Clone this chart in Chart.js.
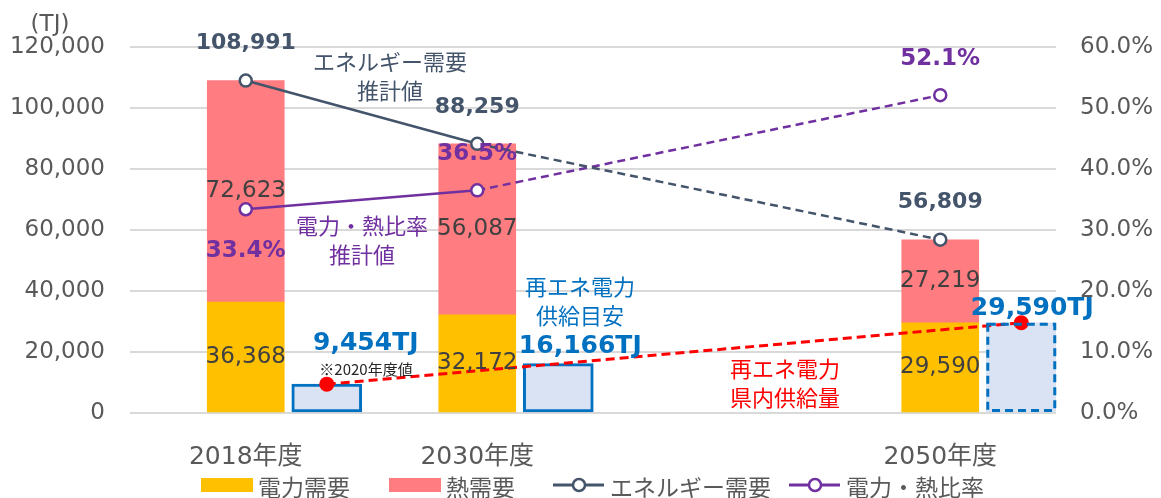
<!DOCTYPE html>
<html>
<head>
<meta charset="utf-8">
<script src="https://cdn.jsdelivr.net/npm/chart.js@4.4.1/dist/chart.umd.min.js"></script>
<style>
  html, body { margin: 0; padding: 0; background: #ffffff; }
  #wrap { width: 1161px; height: 498px; position: relative; }
</style>
</head>
<body>
<div id="wrap"><canvas id="chart" width="1161" height="498"></canvas></div>
<script>
// ---- data ----
const categories     = ['2018年度', '2030年度', '', '2050年度'];
const powerDemand    = [36368, 32172, null, 29590];   // 電力需要 (TJ)
const heatDemand     = [72623, 56087, null, 27219];   // 熱需要 (TJ)
const energyDemand   = [108991, 88259, null, 56809];  // エネルギー需要 (TJ)
const powerHeatRatio = [33.4, 36.5, null, 52.1];      // 電力・熱比率 (%)
const renewTarget    = [9454, 16166, null, 29590];    // 再エネ電力供給目安 (TJ)
const renewSupply    = [9454, null, null, 29590];     // 再エネ電力県内供給量 (TJ)
const leftAxis  = { min: 0, max: 120000, step: 20000 };
const rightAxis = { min: 0, max: 60, step: 10 };

// ---- styling ----
const FONT_NUM = "'DejaVu Sans', 'Noto Sans CJK JP', sans-serif";
const FONT_JP  = "'Noto Sans CJK JP', sans-serif";
const C_POWER = '#FFC000', C_HEAT = '#FF7C80', C_ENERGY = '#44546A',
      C_RATIO = '#7030A0', C_BLUE = '#0070C0', C_BLUE_FILL = '#DAE3F3',
      C_RED = '#FF0000', C_TEXT = '#595959';
const RENEW_SHIFT = 0.35;      // renewable bars sit to the right of each demand bar
const DASHED_CATEGORY = 3;     // the 2050 target is outlined with a dashed border

const fmt = v => v.toLocaleString('en-US');
const shifted = arr => arr.map((v, i) => v == null ? null : { x: i + RENEW_SHIFT, y: v }).filter(Boolean);

const datasets = [
  { key: 'power', type: 'bar', label: '電力需要', data: powerDemand, stack: 'demand', grouped: false,
    backgroundColor: C_POWER, barThickness: 77, order: 3, xAxisID: 'x', yAxisID: 'y', inLegend: true },
  { key: 'heat', type: 'bar', label: '熱需要', data: heatDemand, stack: 'demand', grouped: false,
    backgroundColor: C_HEAT, barThickness: 77, order: 3, xAxisID: 'x', yAxisID: 'y', inLegend: true },
  { key: 'energy', type: 'line', label: 'エネルギー需要', data: energyDemand, spanGaps: true,
    borderColor: C_ENERGY, borderWidth: 2.5, pointRadius: 6, pointBorderWidth: 2.5,
    pointBackgroundColor: '#ffffff', pointBorderColor: C_ENERGY, order: 1,
    segment: { borderDash: c => c.p0DataIndex >= 1 ? [8, 5] : undefined },
    xAxisID: 'x', yAxisID: 'y', inLegend: true },
  { key: 'ratio', type: 'line', label: '電力・熱比率', data: powerHeatRatio, spanGaps: true,
    borderColor: C_RATIO, borderWidth: 2.5, pointRadius: 6, pointBorderWidth: 2.5,
    pointBackgroundColor: '#ffffff', pointBorderColor: C_RATIO, order: 1,
    segment: { borderDash: c => c.p0DataIndex >= 1 ? [8, 5] : undefined },
    xAxisID: 'x', yAxisID: 'y1', inLegend: true },
  { key: 'target', type: 'bar', label: '再エネ電力供給目安', data: shifted(renewTarget), grouped: false,
    backgroundColor: C_BLUE_FILL, borderColor: C_BLUE, borderSkipped: false,
    borderWidth: c => (c.raw && Math.floor(c.raw.x) === DASHED_CATEGORY) ? 0 : 3,
    barThickness: 70, order: 4, xAxisID: 'x2', yAxisID: 'y' },
  { key: 'supply', type: 'line', label: '再エネ電力県内供給量', data: shifted(renewSupply),
    borderColor: C_RED, borderWidth: 3, borderDash: [9, 5], pointRadius: 7.5,
    pointBackgroundColor: C_RED, pointBorderWidth: 0, order: 0, xAxisID: 'x2', yAxisID: 'y' }
];

// text notes placed on the plot
const notes = [
  { lines: ['エネルギー需要', '推計値'], color: C_ENERGY, x: 390, y: 62 },
  { lines: ['電力・熱比率', '推計値'],   color: C_RATIO,  x: 362, y: 226 },
  { lines: ['再エネ電力', '供給目安'],   color: C_BLUE,   x: 580, y: 287 },
  { lines: ['再エネ電力', '県内供給量'], color: C_RED,    x: 785, y: 369 }
];
const ratioLabelDy = [42, -36, null, -36];
const targetLabelOffset = [{ dx: 39, dy: -41 }, { dx: 22, dy: -17 }, null, { dx: 11, dy: -14 }];
const legendStarts = [201, 389, 553, 789];

function dsByKey(chart, key) {
  const i = chart.data.datasets.findIndex(d => d.key === key);
  return { ds: chart.data.datasets[i], meta: chart.getDatasetMeta(i) };
}

const annotate = {
  id: 'annotate',
  afterDatasetsDraw(chart) {
    const ctx = chart.ctx;
    ctx.save();

    // dashed outline of the 2050 target bar
    const tgt = dsByKey(chart, 'target');
    tgt.meta.data.forEach((el, i) => {
      const raw = tgt.ds.data[i];
      if (!raw || Math.floor(raw.x) !== DASHED_CATEGORY) return;
      const left = el.x - el.width / 2;
      ctx.strokeStyle = C_BLUE;
      ctx.lineWidth = 3;
      ctx.setLineDash([8, 5]);
      ctx.strokeRect(left + 1.5, el.y + 1.5, el.width - 3, el.base - el.y - 3);
      ctx.setLineDash([]);
    });

    ctx.textAlign = 'center';
    ctx.textBaseline = 'middle';

    // stacked segment values
    ['power', 'heat'].forEach(k => {
      const { ds, meta } = dsByKey(chart, k);
      meta.data.forEach((el, i) => {
        const v = ds.data[i];
        if (v == null) return;
        const p = el.getCenterPoint();
        ctx.font = `23px ${FONT_NUM}`;
        ctx.fillStyle = '#404040';
        ctx.fillText(fmt(v), p.x, p.y);
      });
    });

    // energy demand totals
    {
      const { ds, meta } = dsByKey(chart, 'energy');
      ctx.font = `bold 22px ${FONT_NUM}`;
      ctx.fillStyle = C_ENERGY;
      meta.data.forEach((el, i) => {
        const v = ds.data[i];
        if (v == null) return;
        ctx.fillText(fmt(v), el.x, el.y - 37);
      });
    }

    // power/heat ratio
    {
      const { ds, meta } = dsByKey(chart, 'ratio');
      ctx.font = `bold 23px ${FONT_NUM}`;
      ctx.fillStyle = C_RATIO;
      meta.data.forEach((el, i) => {
        const v = ds.data[i];
        if (v == null) return;
        ctx.fillText(v.toFixed(1) + '%', el.x, el.y + ratioLabelDy[i]);
      });
    }

    // renewable targets
    {
      const { ds, meta } = dsByKey(chart, 'target');
      ctx.font = `bold 25px ${FONT_NUM}`;
      ctx.fillStyle = C_BLUE;
      meta.data.forEach((el, i) => {
        const raw = ds.data[i];
        const off = targetLabelOffset[Math.floor(raw.x)];
        ctx.fillText(fmt(raw.y) + 'TJ', el.x + off.dx, el.y + off.dy);
      });
    }

    // notes
    ctx.font = `22px ${FONT_JP}`;
    notes.forEach(n => {
      ctx.fillStyle = n.color;
      n.lines.forEach((t, j) => ctx.fillText(t, n.x, n.y + j * 28.5));
    });
    ctx.font = `15px ${FONT_JP}`;
    ctx.fillStyle = '#262626';
    ctx.fillText('※2020年度値', 366, 369);

    // unit
    ctx.font = `23px ${FONT_NUM}`;
    ctx.fillStyle = C_TEXT;
    ctx.fillText('(TJ)', 50, 25);
    ctx.restore();
  },
  afterDraw(chart) {
    // legend
    const ctx = chart.ctx;
    ctx.save();
    const cy = 485;
    const items = chart.data.datasets.filter(d => d.inLegend);
    items.forEach((d, i) => {
      const x0 = legendStarts[i];
      if (d.type === 'bar') {
        ctx.fillStyle = d.backgroundColor;
        ctx.fillRect(x0, cy - 7, 52, 14);
      } else {
        ctx.strokeStyle = d.borderColor;
        ctx.lineWidth = 3;
        ctx.beginPath();
        ctx.moveTo(x0, cy); ctx.lineTo(x0 + 51, cy);
        ctx.stroke();
        ctx.beginPath();
        ctx.arc(x0 + 26, cy, 6, 0, Math.PI * 2);
        ctx.fillStyle = '#ffffff';
        ctx.fill();
        ctx.lineWidth = 2.5;
        ctx.stroke();
      }
      ctx.font = `23px ${FONT_JP}`;
      ctx.fillStyle = C_TEXT;
      ctx.textAlign = 'left';
      ctx.textBaseline = 'middle';
      ctx.fillText(d.label, x0 + 57, cy + 2);
    });
    ctx.restore();
  }
};

new Chart(document.getElementById('chart'), {
  data: { labels: categories, datasets },
  options: {
    responsive: false,
    animation: false,
    devicePixelRatio: 1,
    layout: { padding: { top: 47, left: 0, right: 0, bottom: 0 } },
    plugins: { legend: { display: false }, tooltip: { enabled: false } },
    scales: {
      x: {
        type: 'category', labels: categories, offset: true,
        grid: { display: false }, border: { display: false },
        ticks: { color: C_TEXT, font: { family: FONT_NUM, size: 25 }, padding: 21,
                 maxRotation: 0, autoSkip: false },
        afterFit: s => { s.height = 85; }
      },
      x2: { type: 'linear', display: false, min: -0.5, max: 3.5, offset: false },
      y: {
        position: 'left', min: leftAxis.min, max: leftAxis.max,
        grid: { color: '#D9D9D9', lineWidth: 2, drawTicks: false },
        border: { display: false },
        ticks: { stepSize: leftAxis.step, callback: v => fmt(v), color: C_TEXT,
                 font: { family: FONT_NUM, size: 23 }, padding: 25 },
        afterFit: s => { s.width = 130; }
      },
      y1: {
        position: 'right', min: rightAxis.min, max: rightAxis.max,
        grid: { display: false, drawTicks: false }, border: { display: false },
        ticks: { stepSize: rightAxis.step, callback: v => v.toFixed(1) + '%', color: C_TEXT,
                 font: { family: FONT_NUM, size: 23 }, padding: 24 },
        afterFit: s => { s.width = 105; }
      }
    }
  },
  plugins: [annotate]
});
</script>
</body>
</html>
